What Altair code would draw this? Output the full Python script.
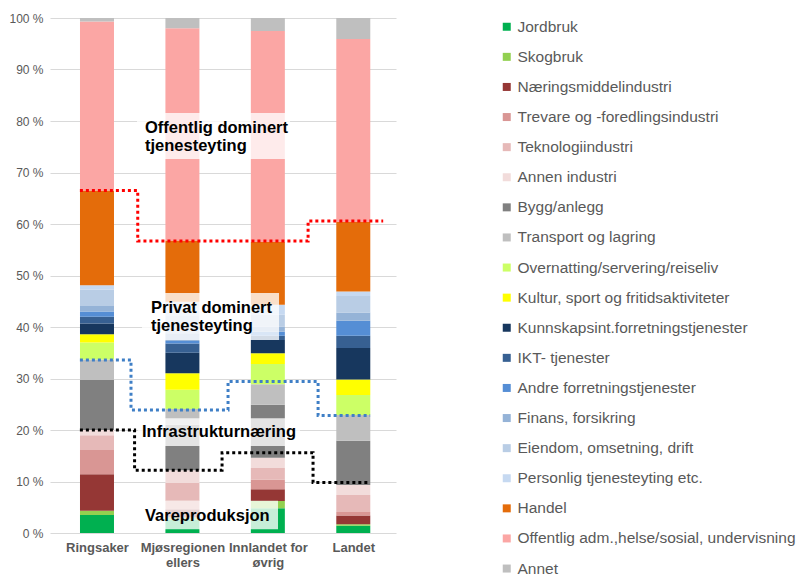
import altair as alt
import pandas as pd

# ---------------- data ----------------
regions = ["Ringsaker", "Mjøsregionen|ellers", "Innlandet for|øvrig", "Landet"]

sectors = [
    "Jordbruk", "Skogbruk", "Næringsmiddelindustri", "Trevare og -foredlingsindustri",
    "Teknologiindustri", "Annen industri", "Bygg/anlegg", "Transport og lagring",
    "Overnatting/servering/reiseliv", "Kultur, sport og fritidsaktiviteter",
    "Kunnskapsint.forretningstjenester", "IKT- tjenester", "Andre forretningstjenester",
    "Finans, forsikring", "Eiendom, omsetning, drift", "Personlig tjenesteyting etc.",
    "Handel", "Offentlig adm.,helse/sosial, undervisning", "Annet",
]
colors = [
    "#00B050", "#92D050", "#953735", "#D99694", "#E6B9B8", "#F2DCDB", "#808080",
    "#BFBFBF", "#CCFF66", "#FFFF00", "#17375E", "#376092", "#558ED5", "#95B3D7",
    "#B9CDE5", "#C6D9F1", "#E46C0A", "#FBA6A4", "#BFBFBF",
]

ringsaker = [3.5, 0.8, 7.1, 4.7, 2.9, 1.0, 9.7, 4.0, 3.3, 1.6, 2.1, 1.3, 1.0, 1.1, 3.2, 0.8, 18.4, 32.8, 0.7]
mjosregionen = [2.6, 0.4, 1.6, 1.7, 3.4, 2.5, 8.8, 3.1, 3.7, 3.2, 4.0, 1.8, 0.5, 1.5, 3.5, 2.6, 11.9, 41.2, 2.0]
innlandet = [4.8, 1.4, 2.3, 1.9, 2.2, 2.0, 10.3, 4.0, 3.9, 2.1, 2.6, 0.8, 0.8, 1.0, 2.3, 1.9, 12.2, 41.0, 2.5]
landet = [1.4, 0.3, 1.7, 0.7, 3.3, 1.9, 8.6, 5.0, 3.9, 3.0, 6.1, 2.4, 2.9, 1.6, 3.2, 0.9, 13.5, 35.5, 4.1]

# step annotation lines (x in category units, y in %)
red_x = [-0.2, 0.477, 0.477, 2.471, 2.471, 3.35]
red_y = [66.5, 66.5, 56.7, 56.7, 60.6, 60.6]
blue_x = [-0.2, 0.398, 0.398, 1.534, 1.534, 2.588, 2.588, 3.197]
blue_y = [33.6, 33.6, 23.9, 23.9, 29.4, 29.4, 22.8, 22.8]
black_x = [-0.2, 0.44, 0.44, 1.464, 1.464, 2.529, 2.529, 3.197]
black_y = [20.0, 20.0, 12.2, 12.2, 15.6, 15.6, 9.8, 9.8]

# annotation labels: (x, y-baseline, text)
label_x = [0.562, 0.562, 0.632, 0.632, 0.527, 0.562]
label_y = [77.6, 74.2, 42.7, 39.3, 18.7, 2.4]
label_text = ["Offentlig dominert", "tjenesteyting", "Privat dominert", "tjenesteyting",
              "Infrastrukturnæring", "Vareproduksjon"]
# semi-transparent boxes behind labels
box_x = [0.468, 0.527, 0.48, 0.504]
box_x2 = [2.26, 2.131, 2.377, 2.119]
box_y = [72.6, 37.5, 16.9, 0.72]
box_y2 = [81.55, 46.6, 22.3, 6.27]

# ---------------- build tables ----------------
half = 0.199
rows = []
for i, vals in enumerate([ringsaker, mjosregionen, innlandet, landet]):
    cum = 0.0
    for k, (s, v) in enumerate(zip(sectors, vals)):
        rows.append({"region": regions[i], "sector": s, "order": k,
                     "x0": i - half, "x1": i + half, "y0": cum, "y1": cum + v})
        cum += v
bars_df = pd.DataFrame(rows)

def line_df(xs, ys):
    return pd.DataFrame({"x0": xs, "y0": ys, "i": list(range(len(xs)))})

xscale = alt.Scale(domain=[-0.55, 3.5], nice=False, zero=False)
yscale = alt.Scale(domain=[0, 100], nice=False)

label_array = "[" + ",".join("'" + r + "'" for r in regions) + "]"
xaxis = alt.Axis(values=[0, 1, 2, 3], labelExpr=f"split({label_array}[datum.value], '|')",
                 grid=False, domain=False, ticks=False, labelFontWeight="bold",
                 labelFontSize=13, labelColor="#595959", labelFont="Liberation Sans",
                 labelPadding=8, labelLineHeight=15, title=None)
yaxis = alt.Axis(values=list(range(0, 101, 10)), labelExpr="datum.value + ' %'",
                 grid=True, gridColor="#D9D9D9", domain=False, ticks=False,
                 labelColor="#595959", labelFontSize=12, labelFont="Liberation Sans",
                 labelPadding=7, title=None)

X = lambda f: alt.X(f, scale=xscale, axis=xaxis, title=None)
Y = lambda f: alt.Y(f, scale=yscale, axis=yaxis, title=None)

bars = alt.Chart(bars_df).mark_bar().encode(
    x=X("x0:Q"),
    x2="x1:Q",
    y=Y("y0:Q"),
    y2="y1:Q",
    color=alt.Color("sector:N", scale=alt.Scale(domain=sectors, range=colors),
                    legend=alt.Legend(title=None, orient="none", legendX=449, legendY=1,
                                      symbolType="square", symbolSize=64, symbolStrokeWidth=0,
                                      labelFontSize=15.5, labelColor="#595959",
                                      labelFont="Liberation Sans", rowPadding=13.1,
                                      labelOffset=3, labelLimit=400)),
    order=alt.Order("order:Q"),
)

boxes_df = pd.DataFrame({"x0": box_x, "x1": box_x2, "y0": box_y, "y1": box_y2})
boxes = alt.Chart(boxes_df).mark_rect(color="white", opacity=0.78).encode(
    x=X("x0:Q"), x2="x1:Q",
    y=Y("y0:Q"), y2="y1:Q",
)

labels_df = pd.DataFrame({"x0": label_x, "y0": label_y, "t": label_text})
labels = alt.Chart(labels_df).mark_text(
    align="left", baseline="alphabetic", font="Liberation Sans", fontWeight="bold",
    fontSize=16.5, color="black"
).encode(
    x=X("x0:Q"),
    y=Y("y0:Q"),
    text="t:N",
)

def step_line(xs, ys, col):
    return alt.Chart(line_df(xs, ys)).mark_line(
        color=col, strokeWidth=3, strokeDash=[3, 3], strokeCap="butt"
    ).encode(
        x=X("x0:Q"),
        y=Y("y0:Q"),
        order="i:Q",
    )

red = step_line(red_x, red_y, "#FF0000")
blue = step_line(blue_x, blue_y, "#3F7FC6")
black = step_line(black_x, black_y, "#000000")

chart = alt.layer(bars, boxes, labels, red, blue, black).properties(
    width=346, height=515,
    padding={"left": 42, "top": 10, "right": 405, "bottom": 41},
    autosize=alt.AutoSizeParams(type="none"),
).configure_view(stroke=None)

chart.save("out.html", embed_options={"renderer": "svg", "actions": False})
